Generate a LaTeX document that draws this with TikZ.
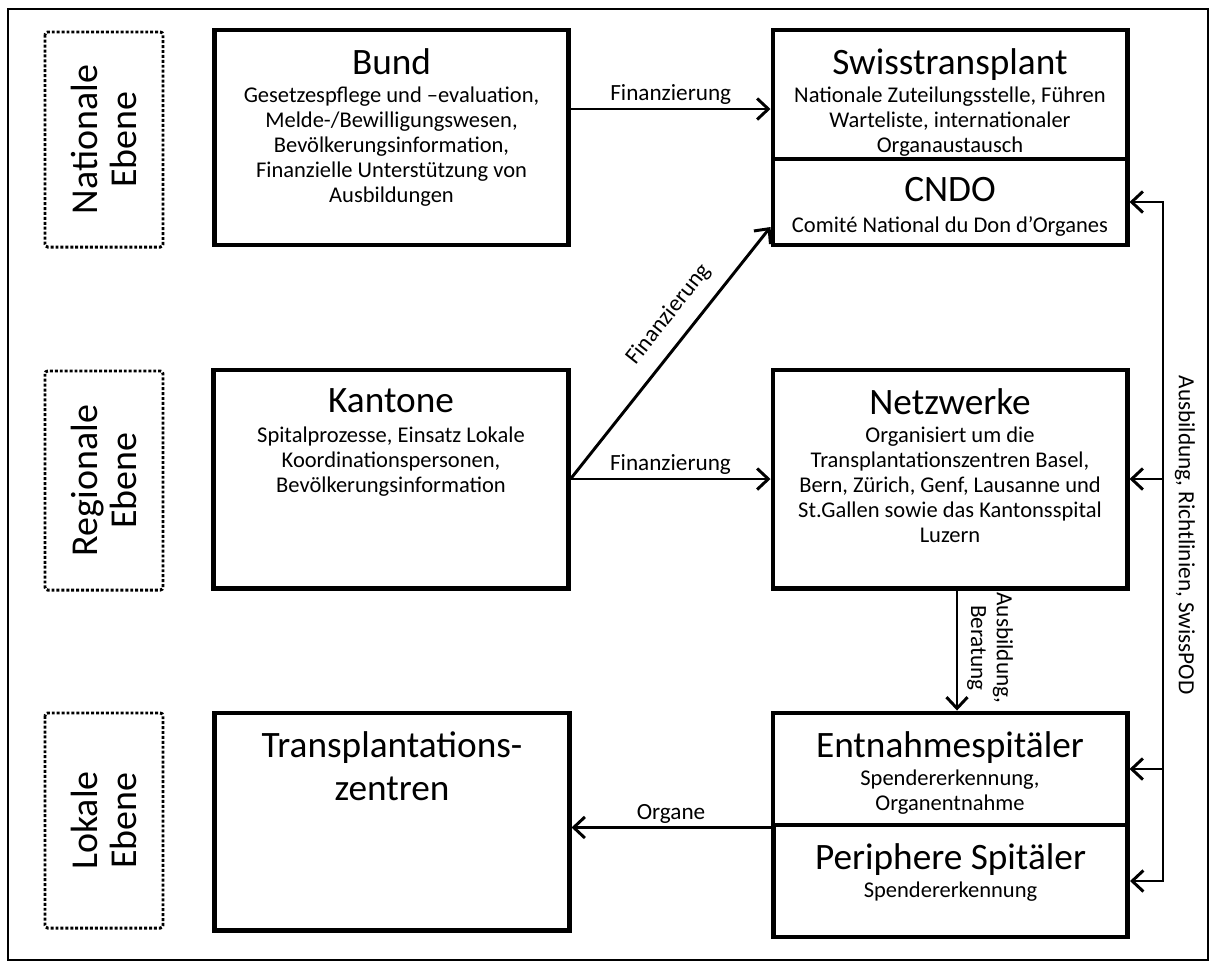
\documentclass[tikz,border=0pt]{standalone}
\usepackage{fontspec}
\setmainfont{Carlito}
\usetikzlibrary{arrows.meta, positioning, calc}

\begin{document}
\begin{tikzpicture}[
    x=0.025cm, y=-0.025cm,
    box/.style={draw, line width=3.5pt, minimum width=8.85cm, inner sep=0pt},
    ebene/.style={draw, line width=2.1pt, dash pattern=on 2.1pt off 1.4pt, rounded corners=2pt, rotate=90, minimum height=2.95cm, font=\fontsize{27}{28}\selectfont, align=center, inner sep=0pt},
    titel/.style={anchor=north, inner sep=0pt, font=\fontsize{26.5}{31}\selectfont, align=center},
    info/.style={anchor=north, inner sep=0pt, font=\fontsize{16}{17.7}\selectfont, align=center},
    lbl/.style={font=\fontsize{16.5}{18.4}\selectfont, inner sep=2pt},
    arrow/.style={-{Straight Barb[length=8pt, width=15pt]}, line width=2.1pt},
    doublearrow/.style={{Straight Barb[length=8pt, width=15pt]}-{Straight Barb[length=8pt, width=15pt]}, line width=2.1pt},
]
    \useasboundingbox (0,0) rectangle (1215,963);
    \draw[line width=1.2pt] (8,9) rectangle (1208,960);

    % Ebenen
    \node[ebene, minimum width=5.375cm] (nat) at (104,139.5) {Nationale\\Ebene};
    \node[ebene, minimum width=5.475cm] (reg) at (104,480.5) {Regionale\\Ebene};
    \node[ebene, minimum width=5.375cm] (lok) at (104,820.5) {Lokale\\Ebene};

    % Nationale Ebene
    \node[box, minimum height=5.375cm] (bund) at (391.5,137.5) {};
    \node[titel] (bund-t) at (391.5,48) {Bund};
    \node[info] (bund-i) at (391.5,87) {Gesetzespflege und –evaluation,\\Melde-/Bewilligungswesen,\\Bevölkerungsinformation,\\Finanzielle Unterstützung von\\Ausbildungen};

    \node[box, minimum height=3.225cm] (swiss) at (950,94.5) {};
    \node[titel] (swiss-t) at (950,48) {Swisstransplant};
    \node[info] (swiss-i) at (950,87) {Nationale Zuteilungsstelle, Führen\\Warteliste, internationaler\\Organaustausch};

    \node[box, minimum height=2.15cm] (cndo) at (950,202) {};
    \node[titel] (cndo-t) at (950,177) {CNDO};
    \node[info] (cndo-i) at (950,216) {Comité National du Don d’Organes};

    % Regionale Ebene
    \node[box, minimum height=5.45cm] (kantone) at (391,479) {};
    \node[titel] (kantone-t) at (391,388) {Kantone};
    \node[info] (kantone-i) at (391,427) {Spitalprozesse, Einsatz Lokale\\Koordinationspersonen,\\Bevölkerungsinformation};

    \node[box, minimum height=5.45cm] (netz) at (950,479) {};
    \node[titel] (netz-t) at (950,388) {Netzwerke};
    \node[info] (netz-i) at (950,427) {Organisiert um die\\Transplantationszentren Basel,\\Bern, Zürich, Genf, Lausanne und\\St.Gallen sowie das Kantonsspital\\Luzern};

    % Lokale Ebene
    \node[box, minimum height=5.425cm] (transpl) at (392,821.5) {};
    \node[titel] (transpl-t) at (392,731) {Transplantations-\\zentren};

    \node[box, minimum height=2.8cm] (entn) at (950,769) {};
    \node[titel] (entn-t) at (950,731) {Entnahmespitäler};
    \node[info] (entn-i) at (950,770) {Spendererkennung,\\Organentnahme};

    \node[box, minimum height=2.8cm] (peri) at (950.5,881) {};
    \node[titel] (peri-t) at (950.5,843) {Periphere Spitäler};
    \node[info] (peri-i) at (950.5,882) {Spendererkennung};

    % Verbindungen
    \draw[arrow] (bund.east |- 0,109) -- node[lbl, above] (fin-bund) {Finanzierung} (swiss.west |- 0,109);
    \draw[arrow] (kantone.east) -- node[lbl, above=8pt, sloped, pos=0.59] (fin-cndo) {Finanzierung} (cndo.west |- 0,227);
    \draw[arrow] (kantone.east) -- node[lbl, above] (fin-netz) {Finanzierung} (netz.west);
    \draw[arrow] ([xshift=0.175cm]netz.south) -- ([xshift=0.175cm]entn.north);
    \node[lbl, rotate=-90, align=center] (ausb) at (990,648) {Ausbildung,\\Beratung};
    \draw[arrow] (entn.south west) -- node[lbl, above] (organe) {Organe} (transpl.east |- entn.south west);

    % Ausbildung, Richtlinien
    \coordinate (rail) at (1163,0);
    \draw[doublearrow] (cndo.east) -- (rail |- cndo.east) -- (rail |- peri.east) -- (peri.east);
    \draw[arrow] (rail |- netz.east) -- (netz.east);
    \draw[arrow] (rail |- entn.east) -- (entn.east);
    \node[lbl, rotate=-90] (rail-lbl) at (1185,535) {Ausbildung, Richtlinien, SwissPOD};
\end{tikzpicture}
\end{document}
